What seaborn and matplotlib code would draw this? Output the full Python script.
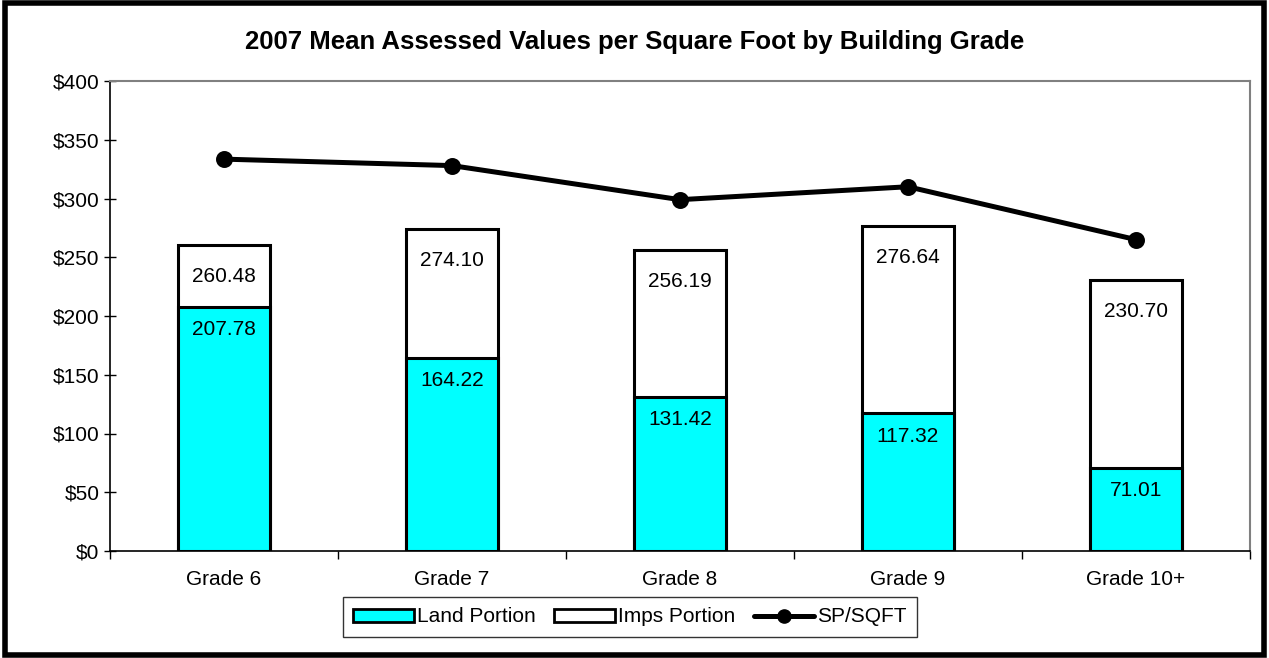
import matplotlib
matplotlib.use("Agg")
import matplotlib.pyplot as plt
import matplotlib.patches as mpatches
from matplotlib.lines import Line2D
from matplotlib.ticker import FuncFormatter, FixedLocator
import seaborn as sns
import pandas as pd

grades = ["Grade 6", "Grade 7", "Grade 8", "Grade 9", "Grade 10+"]
land_portion = [207.78, 164.22, 131.42, 117.32, 71.01]
total_value = [260.48, 274.10, 256.19, 276.64, 230.70]
sp_sqft = [333.5, 328.0, 299.0, 310.0, 265.0]

sns.set_theme(style="white")
plt.rcParams['font.family'] = ['Liberation Sans', 'DejaVu Sans']
plt.rcParams['text.color'] = 'black'
plt.rcParams['xtick.color'] = 'black'
plt.rcParams['ytick.color'] = 'black'
plt.rcParams['xtick.labelcolor'] = 'black'
plt.rcParams['ytick.labelcolor'] = 'black'

df = pd.DataFrame({"grade": grades, "land": land_portion, "total": total_value, "sp": sp_sqft})

fig = plt.figure(figsize=(12.69, 6.58), dpi=100)
ax = fig.add_axes([110/1269, 1-551/658, (1250-110)/1269, (551-81)/658])

sns.barplot(data=df, x="grade", y="total", color="white", edgecolor="black",
            linewidth=2.2, width=0.40, saturation=1, ax=ax, zorder=2)
sns.barplot(data=df, x="grade", y="land", color="#00FFFF", edgecolor="black",
            linewidth=2.2, width=0.40, saturation=1, ax=ax, zorder=3)
sns.pointplot(data=df, x="grade", y="sp", color="black", markers="o",
              linestyles="-", ax=ax, markersize=9.5, linewidth=3.6, zorder=5)

for i, (ld, tt) in enumerate(zip(land_portion, total_value)):
    ax.annotate(f"{tt:.2f}", xy=(i, tt), xytext=(0, -22.5), textcoords="offset points",
                ha="center", va="center", fontsize=15, color="black", zorder=6)
    ax.annotate(f"{ld:.2f}", xy=(i, ld), xytext=(0, -16.5), textcoords="offset points",
                ha="center", va="center", fontsize=15, color="black", zorder=6)

ax.set_xlim(-0.5, 4.5)
ax.set_ylim(0, 400)
ax.set_yticks(range(0, 401, 50))
ax.yaxis.set_major_formatter(FuncFormatter(lambda v, p: f"${int(v)}"))
ax.set_xlabel("")
ax.set_ylabel("")
ax.tick_params(axis="y", which="major", direction="inout", length=9, width=1,
               color="black", labelcolor="black", labelsize=15, pad=3, left=True)
ax.tick_params(axis="x", which="major", length=0, labelsize=15, pad=14,
               labelcolor="black")
ax.xaxis.set_minor_locator(FixedLocator([-0.5, 0.5, 1.5, 2.5, 3.5, 4.5]))
ax.tick_params(axis="x", which="minor", direction="out", length=6, width=1,
               color="black", bottom=True)

for s in ["left", "bottom"]:
    ax.spines[s].set_color("black")
    ax.spines[s].set_linewidth(1.2)
for s in ["top", "right"]:
    ax.spines[s].set_color("#808080")
    ax.spines[s].set_linewidth(1.5)

fig.text(0.5, 1-42/658, "2007 Mean Assessed Values per Square Foot by Building Grade",
         ha="center", va="center", fontsize=18.5, fontweight="bold", color="black")

handles = [
    mpatches.Patch(facecolor="#00FFFF", edgecolor="black", linewidth=2),
    mpatches.Patch(facecolor="white", edgecolor="black", linewidth=2),
    Line2D([0], [0], color="black", lw=3.6, marker="o", markersize=9.5),
]
leg = fig.legend(handles, ["Land Portion", "Imps Portion", "SP/SQFT"], loc="center",
                 bbox_to_anchor=(630/1269, 1-617/658), ncol=3, fontsize=15,
                 frameon=True, fancybox=False, edgecolor="black", handlelength=2.9,
                 handletextpad=0.15, columnspacing=0.9, borderpad=0.5,
                 handleheight=0.6, labelcolor="black")
leg.get_frame().set_linewidth(1.0)

border = mpatches.Rectangle((0.004, 0.005), 0.992, 0.99, transform=fig.transFigure,
                            fill=False, edgecolor="black", linewidth=4)
fig.patches.append(border)

fig.savefig("out.png", dpi=100, facecolor="white")
